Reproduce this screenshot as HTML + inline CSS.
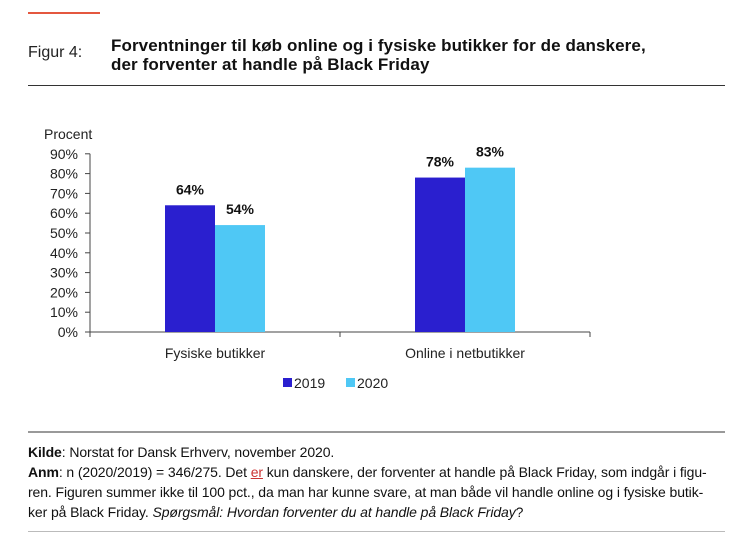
<!DOCTYPE html>
<html><head><meta charset="utf-8"><style>
body{margin:0;background:#fff;width:750px;height:553px;overflow:hidden;font-family:"Liberation Sans",sans-serif;position:relative}
.a{position:absolute}
.t{font-family:"Liberation Sans Narrow","Liberation Sans",sans-serif;}
.foot{font-size:14px;line-height:20px;color:#111;letter-spacing:-0.1px;white-space:nowrap}
</style></head><body>
<div class="a" style="left:28px;top:12px;width:72px;height:2px;background:#e4573f"></div>
<div class="a t" style="left:28px;top:44px;font-size:16px;color:#222">Figur 4:</div>
<div class="a t" style="left:111px;top:36px;font-size:17px;font-weight:bold;line-height:19px;color:#111;white-space:nowrap;letter-spacing:0.1px">Forventninger til køb online og i fysiske butikker for de danskere,<br>der forventer at handle på Black Friday</div>
<div class="a" style="left:28px;top:85px;width:697px;height:1px;background:#333"></div>
<svg class="a" style="left:0;top:0" width="750" height="430">
<g id="g" font-family="Liberation Sans, sans-serif"></g>
</svg>
<div class="a" style="left:28px;top:431px;width:697px;height:2px;background:#999"></div>
<div class="a foot" style="left:28px;top:442px;width:700px">
<b>Kilde</b>: Norstat for Dansk Erhverv, november 2020.<br>
<b>Anm</b>: n (2020/2019) = 346/275. Det <span style="color:#c33;text-decoration:underline">er</span> kun danskere, der forventer at handle på Black Friday, som indgår i figu-<br>ren. Figuren summer ikke til 100 pct., da man har kunne svare, at man både vil handle online og i fysiske butik-<br>ker på Black Friday. <i>Spørgsmål: Hvordan forventer du at handle på Black Friday</i>?
</div>
<div class="a" style="left:28px;top:531px;width:697px;height:1px;background:#bbb"></div>
<script>
const categories=["Fysiske butikker","Online i netbutikker"];
const series2019=[64,78];
const series2020=[54,83];
const seriesNames=["2019","2020"];
const tickValues=[0,10,20,30,40,50,60,70,80,90];
const colors=["#2a1fcf","#4fc8f5"];
const NS="http://www.w3.org/2000/svg";
const g=document.getElementById('g');
const y0=332,pxPer=1.98,axX=90,axEnd=590;
const y=v=>y0-v*pxPer;
const catW=(axEnd-axX)/categories.length;
const catX=i=>axX+catW*(i+0.5);
function el(t,a){const e=document.createElementNS(NS,t);for(const k in a)e.setAttribute(k,a[k]);g.appendChild(e);return e;}
let ax=el('line',{x1:axX,x2:axX,y1:y(90),y2:y0,stroke:'#444'});


let xa=el('line',{x1:axX,x2:axEnd,y1:y0,y2:y0,stroke:'#444'});


for(let i=0;i<=categories.length;i++){
 let l=el('line',{x1:axX+catW*i,x2:axX+catW*i,y1:y0,y2:y0+5,stroke:'#444'});
 
 
}
tickValues.forEach(v=>{
 let l=el('line',{x1:axX-5,x2:axX,y1:y(v),y2:y(v),stroke:'#444'});
 
 
 let t=el('text',{x:78,y:y(v)+5,'text-anchor':'end','font-size':14,fill:'#222'});t.textContent=v+'%';
 
 
});
let yt=el('text',{x:44,y:139,'font-size':14,fill:'#222'});yt.textContent='Procent';


[series2019,series2020].forEach((s,si)=>{
 s.forEach((v,i)=>{
  const x=catX(i)-50+si*50;
  let r=el('rect',{x:x,y:y(v),width:50,height:v*pxPer,fill:colors[si]});
  
  
  let t=el('text',{x:x+25,y:y(v)-11,'text-anchor':'middle','font-size':14,'font-weight':'bold',fill:'#111'});t.textContent=v+'%';
  
  
 });
});
categories.forEach((c,i)=>{
 let t=el('text',{x:catX(i),y:358,'text-anchor':'middle','font-size':14,fill:'#222'});t.textContent=c;
 
 
});
seriesNames.forEach((n,i)=>{
 const lx=283+i*63;
 let r=el('rect',{x:lx,y:378,width:9,height:9,fill:colors[i]});
 
 
 let t=el('text',{x:lx+11,y:388,'font-size':14,fill:'#222'});t.textContent=n;
 
 
});
</script>
</body></html>
